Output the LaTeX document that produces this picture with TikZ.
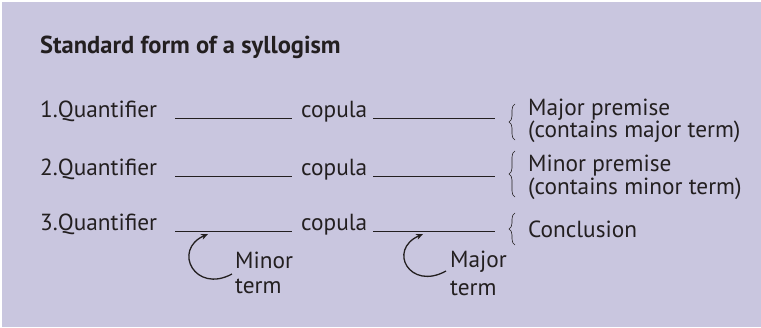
\documentclass[tikz,border=0pt]{standalone}
\usepackage{fontspec}
\setmainfont{PT Sans}
\usetikzlibrary{decorations.pathreplacing,arrows.meta}
\definecolor{panel}{HTML}{C9C6DF}
\definecolor{ink}{HTML}{231F20}
\begin{document}
\begin{tikzpicture}[x=1pt,y=-1pt,
  txt/.style={anchor=base west,inner sep=0pt,text=ink,font=\fontsize{23.3}{25}\selectfont},
  blank/.style={line width=0.8pt,ink},
  bracket/.style={decorate,decoration={brace,amplitude=6pt},line width=0.6pt,ink},
  termarrow/.style={-{Stealth[length=7pt,width=6pt]},line width=1.3pt,ink}]
\useasboundingbox (0,0) rectangle (761,327);
\fill[panel] (1.5,1.5) rectangle (761,327);
\node[txt,font=\bfseries\fontsize{24.5}{26}\selectfont] (title) at (40,53) {Standard form of a syllogism};
% the three lines of the syllogism
\foreach \n/\y in {1/117,2/175,3/230}{
  \node[txt] (quant\n) at (40,\y) {\n.Quantifier};
  \node[txt] (copula\n) at (301,\y) {copula};
  \draw[blank] (175,\y+1) -- (292,\y+1);
  \draw[blank] (373,\y+1) -- (495,\y+1);
}
% labels on the right
\node[txt] (major) at (528,115) {Major premise};
\node[txt] (majorc) at (528,137) {(contains major term)};
\node[txt] (minor) at (528,171) {Minor premise};
\node[txt] (minorc) at (528,194) {(contains minor term)};
\node[txt] (concl) at (528,237) {Conclusion};
\draw[bracket] (515,140) -- (515,104);
\draw[bracket] (515,197) -- (515,151);
\draw[bracket] (515,245) -- (515,213);
% minor and major term
\node[txt] (minorword) at (235,268) {Minor};
\node[txt] (minorterm) at (235,293) {term};
\node[txt] (majorword) at (450,267) {Major};
\node[txt] (majorterm) at (450,295) {term};
\coordinate (minorfoot) at (232,274);
\coordinate (minortip) at (208,234);
\coordinate (majorfoot) at (446,271);
\coordinate (majortip) at (423,234);
\draw[termarrow] (minorfoot) .. controls (195,294) and (172,250) .. (minortip);
\draw[termarrow] (majorfoot) .. controls (410,291) and (387,250) .. (majortip);
\end{tikzpicture}
\end{document}
